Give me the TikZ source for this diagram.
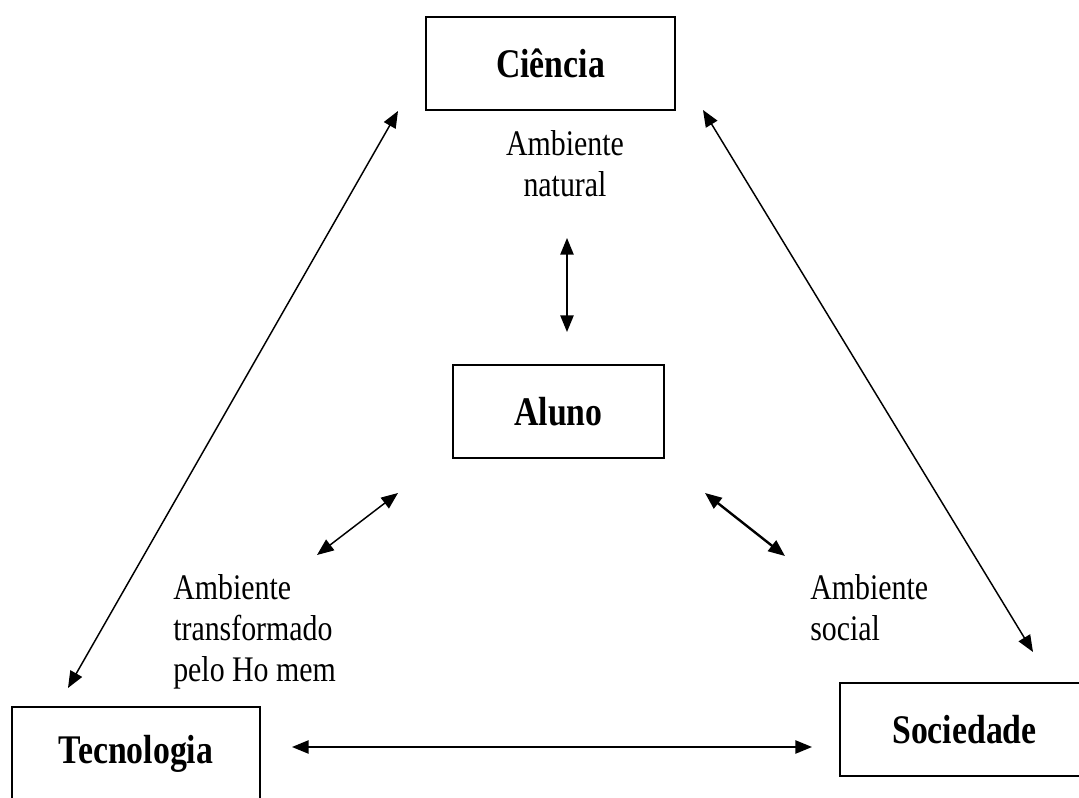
\documentclass[tikz,border=0pt]{standalone}
\usepackage{fontspec}
\setmainfont[FakeStretch=0.83]{Liberation Serif}
\usetikzlibrary{arrows.meta}
\begin{document}
\begin{tikzpicture}[x=0.75pt,y=-0.75pt,
  box/.style={draw,line width=1.4pt,inner sep=0pt,minimum height=69.75pt,
    font=\fontsize{30.5}{34}\selectfont\bfseries},
  lbl/.style={inner sep=0pt,font=\fontsize{27}{30.75}\selectfont},
  conn/.style={line width=1.1pt,{Triangle[length=12.5pt,width=10pt]}-{Triangle[length=12.5pt,width=10pt]}},
  thickconn/.style={conn,line width=1.8pt}]
\useasboundingbox (0,0) rectangle (1079,798);
\fill[white] (0,0) rectangle (1079,798);
% boxes
\node[box,minimum width=186.75pt] (ciencia) at (550.5,63.5) {Ciência};
\node[box,minimum width=158.25pt] (aluno) at (558.5,411.5) {Aluno};
\node[box,minimum width=186pt] (tecnologia) at (136,753.5) {Tecnologia};
\node[box,minimum width=186.75pt] (sociedade) at (964.5,729.5) {Sociedade};
% labels
\node[lbl,align=center,anchor=north] (natural) at (565,130) {Ambiente\\natural};
\node[lbl,align=left,anchor=north west] (transf) at (173,574) {Ambiente\\transformado\\pelo Ho mem};
\node[lbl,align=left,anchor=north west] (social) at (810,574) {Ambiente\\social};
% connector endpoints
\coordinate (v1) at (567,238);
\coordinate (v2) at (567,332);
\coordinate (l1) at (398,111);
\coordinate (l2) at (68,688);
\coordinate (r1) at (703,110);
\coordinate (r2) at (1033,652);
\coordinate (h1) at (292,747);
\coordinate (h2) at (812,747);
\coordinate (sl1) at (317,555);
\coordinate (sl2) at (398,493);
\coordinate (sr1) at (705,493);
\coordinate (sr2) at (785,556);
% connectors
\draw[conn] (v1) -- (v2);
\draw[conn] (l1) -- (l2);
\draw[conn] (r1) -- (r2);
\draw[conn] (h1) -- (h2);
\draw[conn] (sl1) -- (sl2);
\draw[thickconn] (sr1) -- (sr2);
\end{tikzpicture}
\end{document}
